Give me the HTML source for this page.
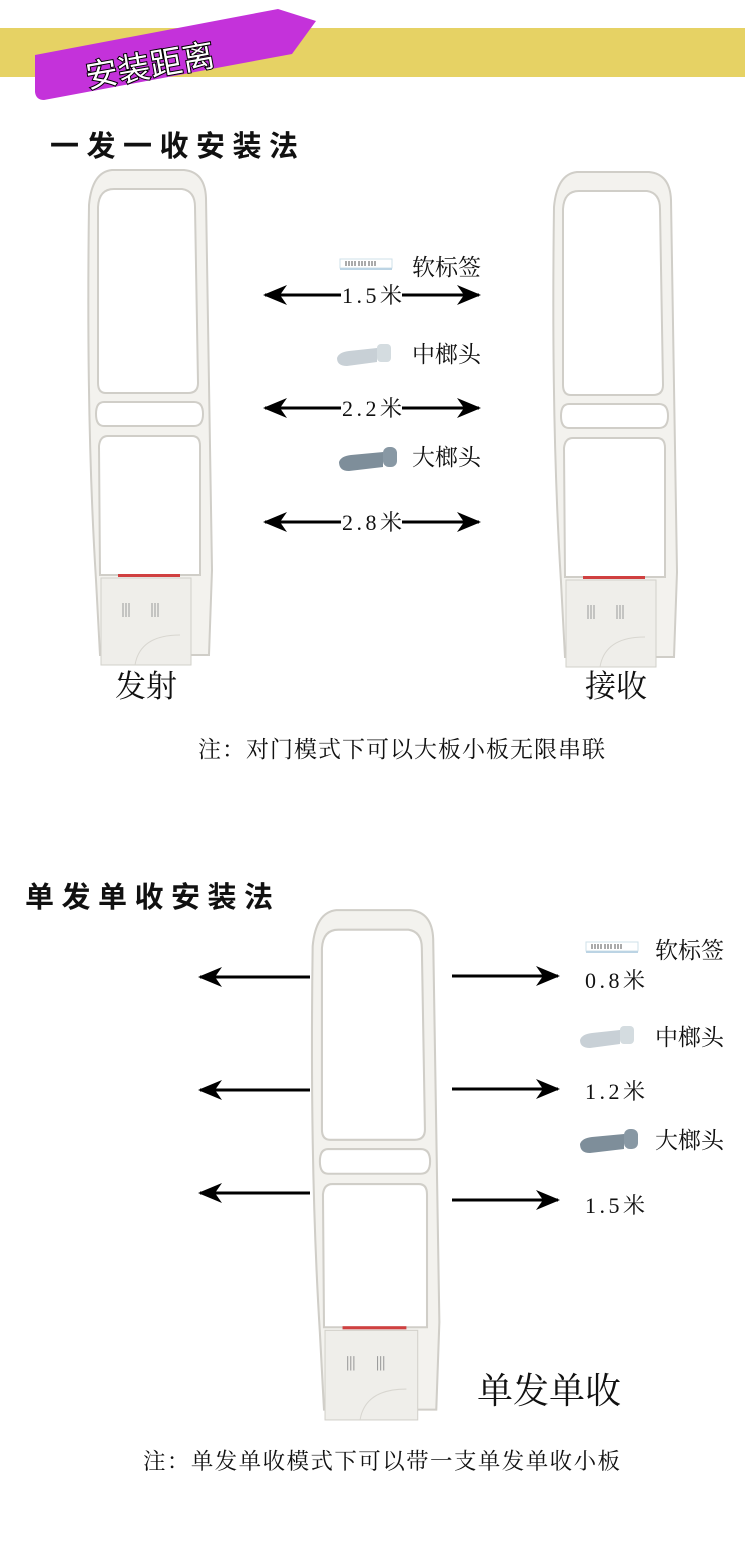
<!DOCTYPE html>
<html><head><meta charset="utf-8"><style>
body{margin:0;background:#fff;}
svg{display:block;}
text{font-family:"Liberation Serif","Noto Serif CJK SC",serif;fill:#111;}
</style></head><body>
<svg width="745" height="1566" viewBox="0 0 745 1566" xmlns="http://www.w3.org/2000/svg">
<defs>
<marker id="ah" viewBox="0 0 24 20" refX="22" refY="10" markerWidth="24" markerHeight="20" markerUnits="userSpaceOnUse" orient="auto">
<path d="M0 0 L24 10 L0 20 L7 10 Z" fill="#000"/></marker>
<g id="ant">
<path fill-rule="evenodd" fill="#f3f2ee" stroke="#d0cec8" stroke-width="2" d="M112 170 L184 170 Q205 172 206 198 L212 570 L209 655 L100 655 L96 580 Q86 420 89 205 Q92 172 112 170 Z
M114 189 L182 189 Q195 191 195 207 L198 383 Q198 393 188 393 L106 393 Q98 393 98 383 L98 207 Q99 189 114 189 Z
M104 402 L194 402 Q203 402 203 414 Q203 426 194 426 L104 426 Q96 426 96 414 Q96 402 104 402 Z
M108 436 L192 436 Q200 436 200 446 L200 575 L100 575 L99 446 Q100 436 108 436 Z"/>
<rect x="118" y="574" width="62" height="3" fill="#d04040"/>
<rect x="101" y="578" width="90" height="87" fill="#efeeea" stroke="#d2d0ca"/>
<g stroke="#999" stroke-width="1"><path d="M123 603v14M126 603v14M129 603v14M152 603v14M155 603v14M158 603v14"/></g>
<path d="M135 665 Q140 635 180 635" fill="none" stroke="#d8d6d0"/>
</g>
<g id="tag"><rect x="0" y="0" width="52" height="9" fill="#fff" stroke="#cfe0ea"/><path d="M6 2v5M9 2v5M12 2v5M15 2v5M19 2v5M22 2v5M25 2v5M29 2v5M32 2v5M35 2v5" stroke="#555"/><rect x="0" y="9" width="52" height="2" fill="#bcd4e4"/></g>
<g id="mid"><path d="M0 10 Q2 4 12 3 L40 0 L40 14 L10 18 Q0 18 0 10Z" fill="#c8d0d6"/><rect x="40" y="-4" width="14" height="18" rx="4" fill="#d4dce0"/></g>
<g id="big"><path d="M0 10 Q2 4 12 3 L44 0 L44 15 L10 19 Q0 19 0 10Z" fill="#7e8e9a"/><rect x="44" y="-5" width="14" height="20" rx="6" fill="#8898a4"/></g>
</defs>
<rect x="0" y="28" width="745" height="49" fill="#e6d264"/>
<path d="M35 55 L278 9 L316 21 L292 54 L44 100 Q36 100 35 92 Z" fill="#c432da"/>
<text x="88" y="88" transform="rotate(-10 88 88)" font-size="32" textLength="130" style="font-family:'Liberation Sans','Noto Sans CJK SC',sans-serif;fill:#fff;stroke:#000;stroke-width:2;paint-order:stroke">安装距离</text>
<text x="50" y="156" font-size="29" font-weight="bold" textLength="248" style="font-family:'Liberation Sans','Noto Sans CJK SC',sans-serif">一发一收安装法</text>
<use href="#ant"/>
<use href="#ant" transform="translate(465,2)"/>
<g stroke="#000" stroke-width="3">
<line x1="341" y1="295" x2="265" y2="295" marker-end="url(#ah)"/><line x1="402" y1="295" x2="479" y2="295" marker-end="url(#ah)"/>
<line x1="341" y1="408" x2="265" y2="408" marker-end="url(#ah)"/><line x1="402" y1="408" x2="479" y2="408" marker-end="url(#ah)"/>
<line x1="341" y1="522" x2="265" y2="522" marker-end="url(#ah)"/><line x1="402" y1="522" x2="479" y2="522" marker-end="url(#ah)"/>
</g>
<text x="342" y="303" font-size="22" textLength="60">1.5米</text>
<text x="342" y="416" font-size="22" textLength="60">2.2米</text>
<text x="342" y="530" font-size="22" textLength="60">2.8米</text>
<use href="#tag" transform="translate(340,259)"/>
<text x="412" y="275" font-size="23">软标签</text>
<use href="#mid" transform="translate(337,348)"/>
<text x="412" y="362" font-size="23">中榔头</text>
<use href="#big" transform="translate(339,452)"/>
<text x="412" y="465" font-size="23">大榔头</text>
<text x="115" y="697" font-size="31">发射</text>
<text x="585" y="697" font-size="31">接收</text>
<text x="198" y="757" font-size="23" textLength="407">注：对门模式下可以大板小板无限串联</text>
<text x="25" y="907" font-size="29" font-weight="bold" textLength="248" style="font-family:'Liberation Sans','Noto Sans CJK SC',sans-serif">单发单收安装法</text>
<use href="#ant" transform="translate(221,735) scale(1.03)"/>
<g stroke="#000" stroke-width="3">
<line x1="310" y1="977" x2="200" y2="977" marker-end="url(#ah)"/><line x1="452" y1="976" x2="558" y2="976" marker-end="url(#ah)"/>
<line x1="310" y1="1090" x2="200" y2="1090" marker-end="url(#ah)"/><line x1="452" y1="1089" x2="558" y2="1089" marker-end="url(#ah)"/>
<line x1="310" y1="1193" x2="200" y2="1193" marker-end="url(#ah)"/><line x1="452" y1="1200" x2="558" y2="1200" marker-end="url(#ah)"/>
</g>
<use href="#tag" transform="translate(586,942)"/>
<text x="655" y="958" font-size="23">软标签</text>
<text x="585" y="988" font-size="22" textLength="60">0.8米</text>
<use href="#mid" transform="translate(580,1030)"/>
<text x="655" y="1045" font-size="23">中榔头</text>
<text x="585" y="1099" font-size="22" textLength="60">1.2米</text>
<use href="#big" transform="translate(580,1134)"/>
<text x="655" y="1148" font-size="23">大榔头</text>
<text x="585" y="1213" font-size="22" textLength="60">1.5米</text>
<text x="477" y="1403" font-size="36">单发单收</text>
<text x="143" y="1469" font-size="22.5" textLength="477">注：单发单收模式下可以带一支单发单收小板</text>
</svg>
</body></html>
